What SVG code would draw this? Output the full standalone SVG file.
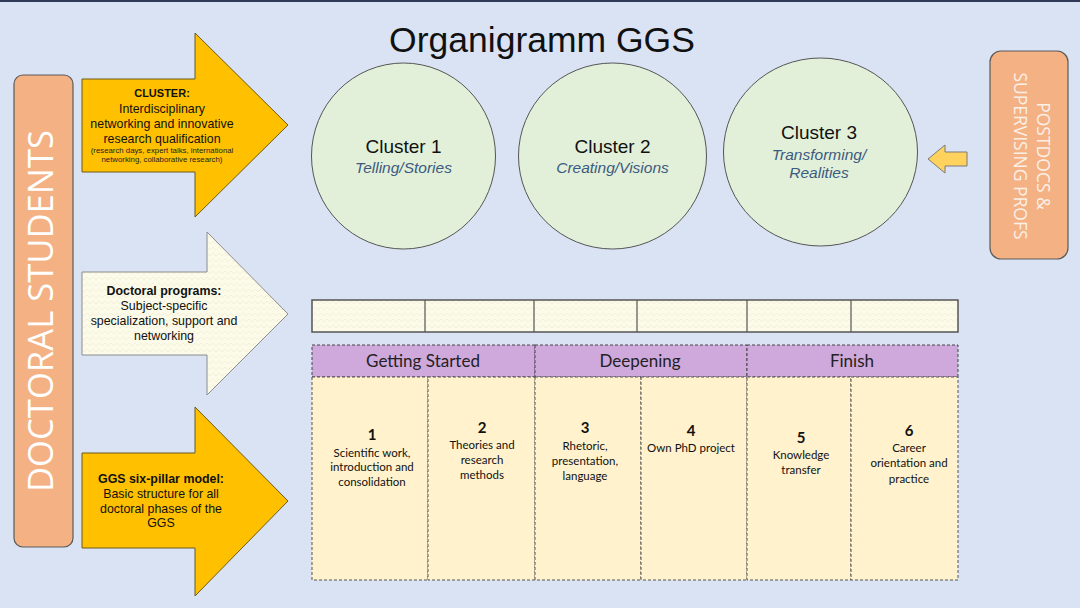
<svg xmlns="http://www.w3.org/2000/svg" width="1080" height="608" viewBox="0 0 1080 608">
<style>
.sans{font-family:"Liberation Sans",Arial,sans-serif;}
.cal{font-family:Lato,"Open Sans",sans-serif;}
.arrowY{fill:#FFC000;stroke:#6b5a1e;stroke-width:1;}
.arrowC{fill:url(#zig);stroke:#8c8c8c;stroke-width:1;}
.side{fill:#F4B183;stroke:#5a5a5a;stroke-width:1.2;}
.circ{fill:#E2F0D9;stroke:#555;stroke-width:1;}
.ct{font-size:19px;fill:#111;text-anchor:middle;}
.cs{font-size:15.5px;font-style:italic;fill:#3d5a80;text-anchor:middle;}
.at{font-size:12.4px;fill:#111;text-anchor:middle;}
.ph{fill:#CFA8DC;stroke:#444;stroke-width:1;stroke-dasharray:3 2;}
.pl{fill:#FFF2CC;stroke:#555;stroke-width:1;stroke-dasharray:3 2;}
.pt{font-size:17px;fill:#222;text-anchor:middle;}
.pn{font-size:15px;font-weight:bold;fill:#111;text-anchor:middle;}
.px{font-size:11.5px;fill:#111;text-anchor:middle;}
</style>
<defs>
<pattern id="zig" width="6" height="6" patternUnits="userSpaceOnUse">
<rect width="6" height="6" fill="#FCFAE8"/>
<path d="M0,4 L3,1 L6,4" fill="none" stroke="#EFEAD0" stroke-width="0.6"/>
</pattern>
</defs>
<rect width="1080" height="608" fill="#DAE3F3"/>
<rect width="1080" height="2" fill="#2F3A56"/>

<g id="title"><text class="sans" x="542" y="52" font-size="35.5" text-anchor="middle" fill="#111">Organigramm GGS</text></g>

<g id="doctoral-students">
<rect class="side" x="14" y="75" width="59" height="472" rx="9"/>
<text font-family="'Open Sans',sans-serif" font-size="34" fill="#fff" text-anchor="middle" transform="translate(43,311) rotate(-90)" y="10" textLength="362" lengthAdjust="spacingAndGlyphs">DOCTORAL STUDENTS</text>
</g>

<g id="postdocs">
<rect class="side" x="990" y="51" width="78" height="208" rx="11"/>
<g transform="translate(1029,156) rotate(90)" font-family="'Open Sans',sans-serif" font-size="17.5" fill="#FBEFE6" text-anchor="middle">
<text x="0" y="-8">POSTDOCS &amp;</text>
<text x="0" y="15">SUPERVISING PROFS</text>
</g>
</g>

<g id="arrow-cluster">
<path class="arrowY" d="M82,79 H195 V33 L288,125 L195,217 V172 H82 Z"/>
<text class="sans" x="162" y="97" font-size="11" font-weight="bold" text-anchor="middle" fill="#111">CLUSTER:</text>
<text class="sans at" x="162" y="113">Interdisciplinary</text>
<text class="sans at" x="162" y="128">networking and innovative</text>
<text class="sans at" x="162" y="143">research qualification</text>
<text class="sans" x="162" y="153" font-size="7.8" text-anchor="middle" fill="#222">(research days, expert talks, international</text>
<text class="sans" x="162" y="162" font-size="7.8" text-anchor="middle" fill="#222">networking, collaborative research)</text>
</g>

<g id="arrow-programs">
<path class="arrowC" d="M82,272 H207 V232 L288,314 L207,395 V355 H82 Z"/>
<text class="sans" x="164" y="295" font-size="12.4" font-weight="bold" text-anchor="middle" fill="#111">Doctoral programs:</text>
<text class="sans at" x="164" y="310">Subject-specific</text>
<text class="sans at" x="164" y="325">specialization, support and</text>
<text class="sans at" x="164" y="340">networking</text>
</g>

<g id="arrow-pillar">
<path class="arrowY" d="M82,453 H195 V407 L288,501 L195,596 V548 H82 Z"/>
<text class="sans" x="161" y="483" font-size="12.4" font-weight="bold" text-anchor="middle" fill="#111">GGS six-pillar model:</text>
<text class="sans at" x="161" y="498">Basic structure for all</text>
<text class="sans at" x="161" y="513">doctoral phases of the</text>
<text class="sans at" x="161" y="527">GGS</text>
</g>

<g id="cluster1">
<ellipse class="circ" cx="403.5" cy="156" rx="92" ry="93"/>
<text class="sans ct" x="403.5" y="153">Cluster 1</text>
<text class="sans cs" x="403.5" y="173">Telling/Stories</text>
</g>
<g id="cluster2">
<ellipse class="circ" cx="612.5" cy="156" rx="94" ry="93"/>
<text class="sans ct" x="612.5" y="153">Cluster 2</text>
<text class="sans cs" x="612.5" y="173">Creating/Visions</text>
</g>
<g id="cluster3">
<ellipse class="circ" cx="820.5" cy="152" rx="97" ry="94"/>
<text class="sans ct" x="819" y="139">Cluster 3</text>
<text class="sans cs" x="819" y="160">Transforming/</text>
<text class="sans cs" x="819" y="178">Realities</text>
</g>

<g id="connectors">
<path d="M967,152 H945 V145 L928,159 L945,173 V166 H967 Z" fill="#FFD25E" stroke="#7a7a7a" stroke-width="1"/>
</g>

<g id="program-strip">
<rect x="312" y="300" width="646" height="32" fill="url(#zig)" stroke="#555" stroke-width="1.5"/>
<path d="M425,300 V332 M534,300 V332 M637,300 V332 M747,300 V332 M851,300 V332" stroke="#555" stroke-width="1.2"/>
</g>

<g id="phases">
<rect class="ph" x="312" y="345" width="223" height="32"/>
<rect class="ph" x="535" y="345" width="212" height="32"/>
<rect class="ph" x="747" y="345" width="211" height="32"/>
<text class="cal pt" x="423" y="367">Getting Started</text>
<text class="cal pt" x="640" y="367">Deepening</text>
<text class="cal pt" x="852" y="367">Finish</text>
</g>

<g id="pillar1">
<rect class="pl" x="312" y="377" width="116" height="203"/>
<text class="cal pn" x="372" y="440">1</text>
<text class="cal px" x="372" y="457">Scientific work,</text>
<text class="cal px" x="372" y="471">introduction and</text>
<text class="cal px" x="372" y="486">consolidation</text>
</g>
<g id="pillar2">
<rect class="pl" x="428" y="377" width="107" height="203"/>
<text class="cal pn" x="482" y="433">2</text>
<text class="cal px" x="482" y="449">Theories and</text>
<text class="cal px" x="482" y="464">research</text>
<text class="cal px" x="482" y="479">methods</text>
</g>
<g id="pillar3">
<rect class="pl" x="535" y="377" width="106" height="203"/>
<text class="cal pn" x="585" y="433">3</text>
<text class="cal px" x="585" y="450">Rhetoric,</text>
<text class="cal px" x="585" y="465">presentation,</text>
<text class="cal px" x="585" y="480">language</text>
</g>
<g id="pillar4">
<rect class="pl" x="641" y="377" width="106" height="203"/>
<text class="cal pn" x="691" y="436">4</text>
<text class="cal px" x="691" y="452">Own PhD project</text>
</g>
<g id="pillar5">
<rect class="pl" x="747" y="377" width="104" height="203"/>
<text class="cal pn" x="801" y="443">5</text>
<text class="cal px" x="801" y="459">Knowledge</text>
<text class="cal px" x="801" y="474">transfer</text>
</g>
<g id="pillar6">
<rect class="pl" x="851" y="377" width="107" height="203"/>
<text class="cal pn" x="909" y="436">6</text>
<text class="cal px" x="909" y="452">Career</text>
<text class="cal px" x="909" y="467">orientation and</text>
<text class="cal px" x="909" y="483">practice</text>
</g>
</svg>
